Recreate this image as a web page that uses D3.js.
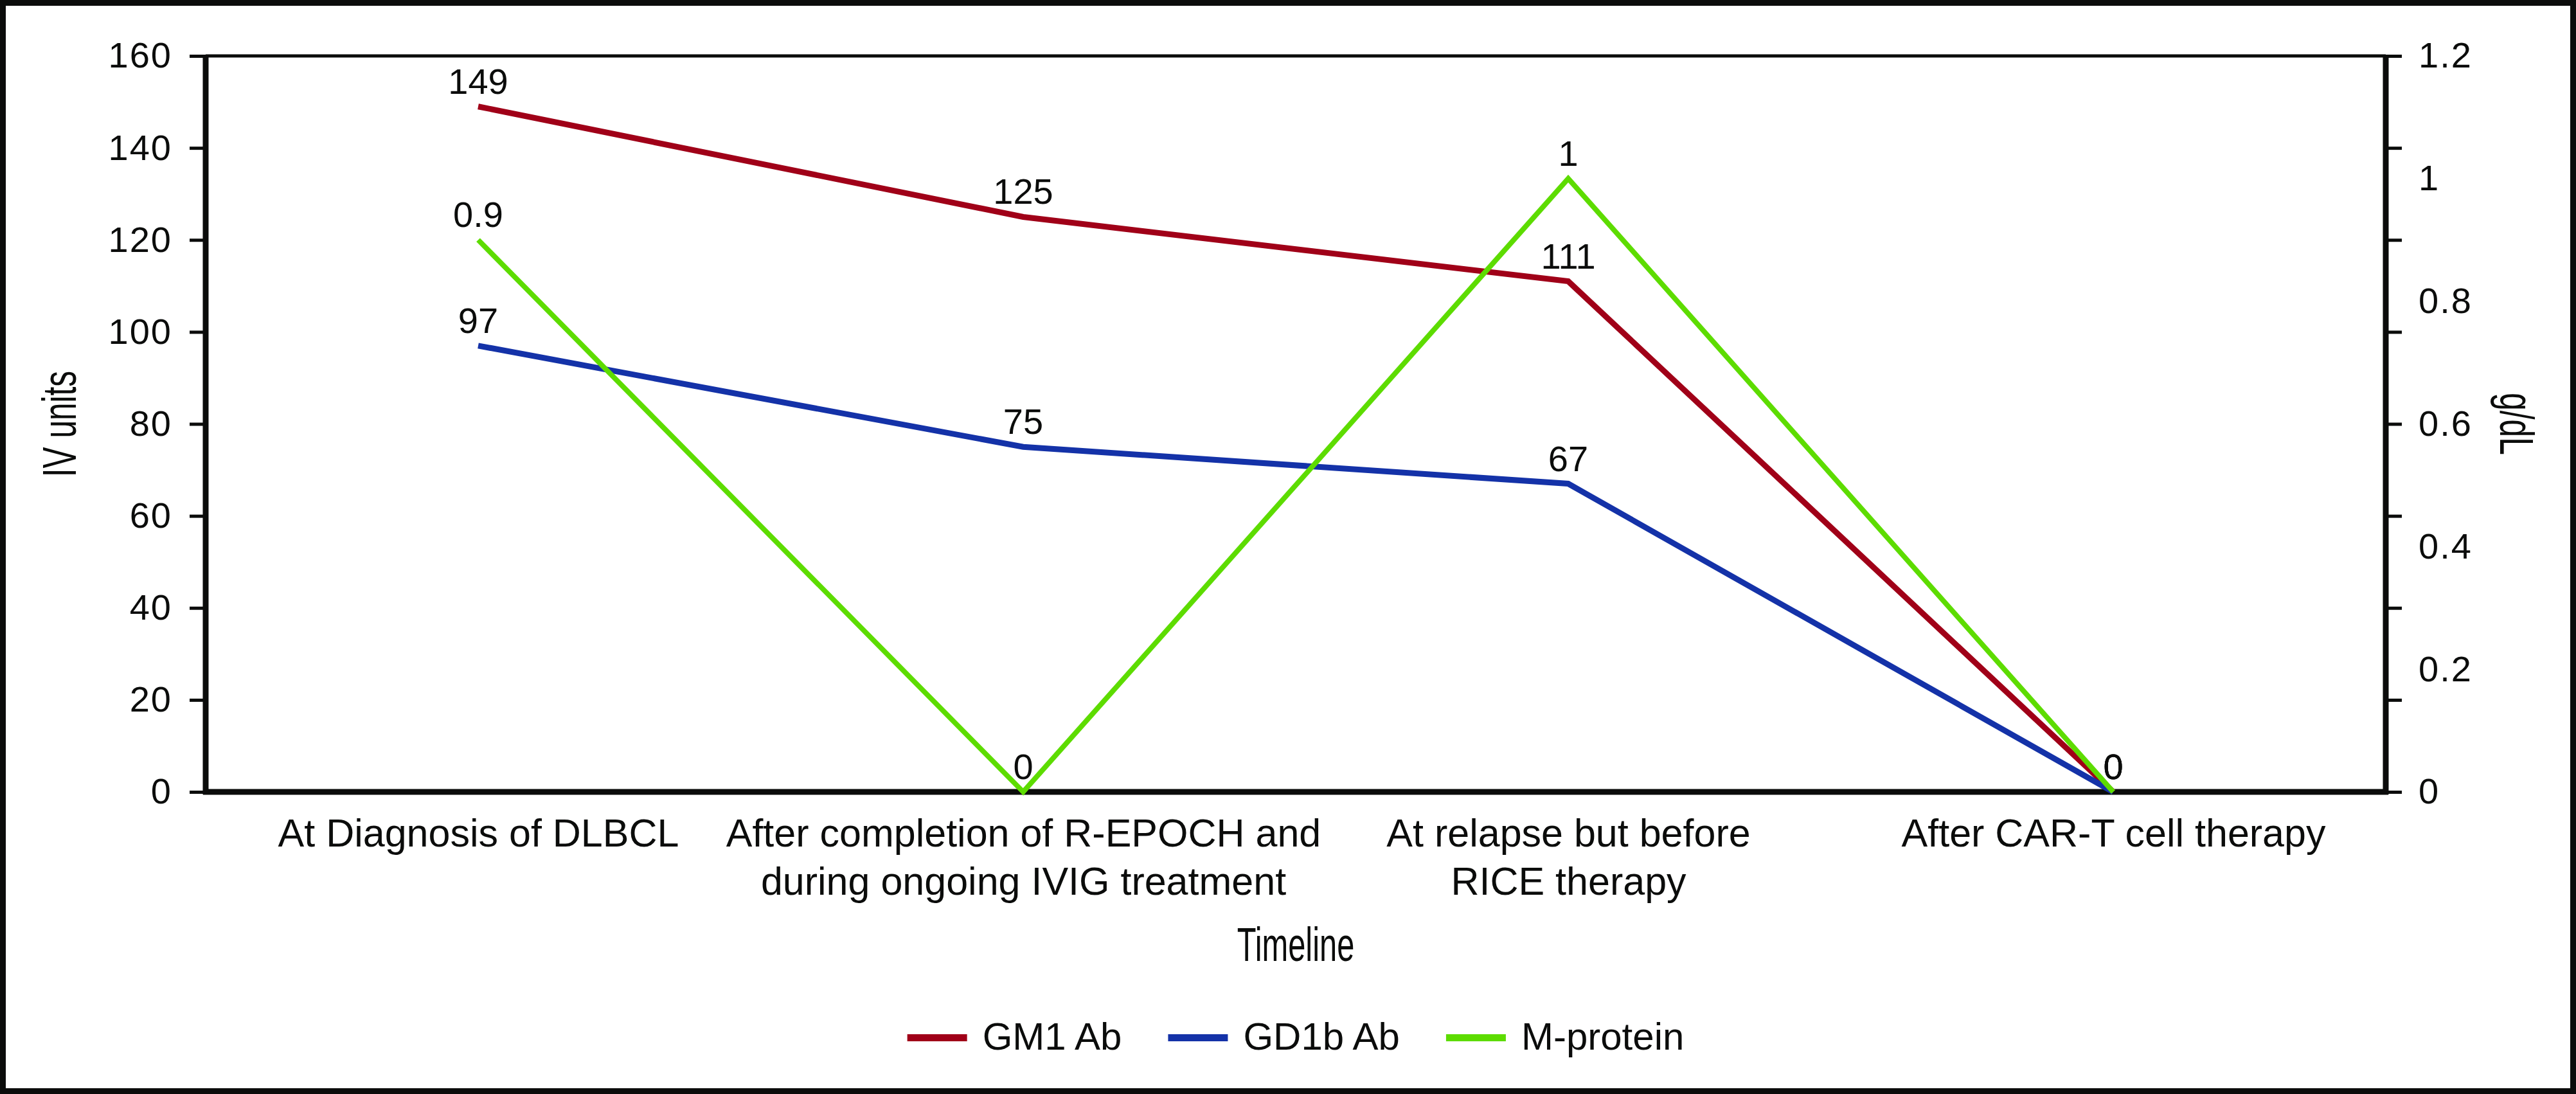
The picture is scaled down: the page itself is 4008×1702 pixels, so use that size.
<!DOCTYPE html>
<html>
<head>
<meta charset="utf-8">
<script src="https://cdn.jsdelivr.net/npm/d3@7"></script>
<style>
  body { margin: 0; background: #fff; }
  svg { display: block; font-family: "Liberation Sans", Arial, Helvetica, sans-serif; }
</style>
</head>
<body>
<script>
// chart data
var categories = ["diag", "repoch", "relapse", "cart"];
var categoryLabels = [
  ["At Diagnosis of DLBCL"],
  ["After completion of R-EPOCH and", "during ongoing IVIG treatment"],
  ["At relapse but before", "RICE therapy"],
  ["After CAR-T cell therapy"]
];
var gm1 = [149, 125, 111, 0];
var gd1b = [97, 75, 67, 0];
var mprotein = [0.9, 0, 1, 0];
var leftTicks = [0, 20, 40, 60, 80, 100, 120, 140, 160];
var rightTicks = [0, 0.2, 0.4, 0.6, 0.8, 1, 1.2];
var seriesNames = ["GM1 Ab", "GD1b Ab", "M-protein"];

var width = 4008, height = 1702;
var margin = {top: 87, right: 296, bottom: 470, left: 320};
var plotRight = width - margin.right;
var plotBottom = height - margin.bottom;

var svg = d3.select("body").append("svg")
  .attr("width", width)
  .attr("height", height);

svg.append("rect")
  .attr("width", width).attr("height", height)
  .attr("fill", "#fff");

// outer frame
svg.append("rect")
  .attr("x", 4.5).attr("y", 4.5)
  .attr("width", width - 9).attr("height", height - 9)
  .attr("fill", "none").attr("stroke", "#0b0c0b").attr("stroke-width", 9);

var x = d3.scalePoint().domain(categories).range([margin.left, plotRight]).padding(0.5);
var yL = d3.scaleLinear().domain([0, 160]).range([plotBottom, margin.top]);
var yR = d3.scaleLinear().domain([0, 1.2]).range([plotBottom, margin.top]);

// left axis
var gL = svg.append("g")
  .attr("transform", "translate(" + margin.left + ",0)")
  .call(d3.axisLeft(yL).tickValues(leftTicks).tickSize(25).tickPadding(27));
gL.select(".domain").remove();
gL.selectAll(".tick line").attr("stroke", "#0b0c0b").attr("stroke-width", 5);
gL.selectAll(".tick text").attr("font-size", 56).attr("fill", "#0b0c0b")
  .attr("font-family", "Liberation Sans, Arial, sans-serif").attr("letter-spacing", 2);

// right axis: ticks follow the left grid, labels every 0.2
var gRt = svg.append("g")
  .attr("transform", "translate(" + plotRight + ",0)")
  .call(d3.axisRight(yL).tickValues(leftTicks).tickSize(25).tickFormat(""));
gRt.select(".domain").remove();
gRt.selectAll(".tick line").attr("stroke", "#0b0c0b").attr("stroke-width", 5);

var gR = svg.append("g")
  .attr("transform", "translate(" + plotRight + ",0)")
  .call(d3.axisRight(yR).tickValues(rightTicks).tickSize(0).tickPadding(51)
    .tickFormat(function(d) { return d3.format("~g")(d); }));
gR.select(".domain").remove();
gR.selectAll(".tick text").attr("font-size", 56).attr("fill", "#0b0c0b")
  .attr("font-family", "Liberation Sans, Arial, sans-serif").attr("letter-spacing", 2);

// bottom axis with wrapped labels
var gB = svg.append("g")
  .attr("transform", "translate(0," + plotBottom + ")")
  .call(d3.axisBottom(x).tickSize(0).tickPadding(0).tickFormat(""));
gB.select(".domain").remove();
gB.selectAll(".tick text").remove();
gB.selectAll(".tick").each(function(d, i) {
  var t = d3.select(this).append("text")
    .attr("text-anchor", "middle")
    .attr("font-size", 61)
    .attr("fill", "#0b0c0b");
  categoryLabels[i].forEach(function(line, j) {
    t.append("tspan").attr("x", 0).attr("y", 85 + j * 75).text(line);
  });
});

// plot frame: thin top, heavy axes
svg.append("line")
  .attr("x1", margin.left).attr("x2", plotRight)
  .attr("y1", margin.top).attr("y2", margin.top)
  .attr("stroke", "#0b0c0b").attr("stroke-width", 5);
svg.append("line")
  .attr("x1", margin.left - 4).attr("x2", plotRight + 4)
  .attr("y1", plotBottom).attr("y2", plotBottom)
  .attr("stroke", "#0b0c0b").attr("stroke-width", 9);
svg.append("line")
  .attr("x1", margin.left).attr("x2", margin.left)
  .attr("y1", margin.top - 2).attr("y2", plotBottom + 4)
  .attr("stroke", "#0b0c0b").attr("stroke-width", 9);
svg.append("line")
  .attr("x1", plotRight).attr("x2", plotRight)
  .attr("y1", margin.top - 2).attr("y2", plotBottom + 4)
  .attr("stroke", "#0b0c0b").attr("stroke-width", 9);

// axis titles (condensed face)
svg.append("text")
  .attr("transform", "translate(118," + (margin.top + plotBottom) / 2 + ") rotate(-90) scale(0.67,1)")
  .attr("text-anchor", "middle").attr("font-size", 74).attr("fill", "#0b0c0b")
  .text("IV units");
svg.append("text")
  .attr("transform", "translate(3890," + (margin.top + plotBottom) / 2 + ") rotate(90) scale(0.67,1)")
  .attr("text-anchor", "middle").attr("font-size", 74).attr("fill", "#0b0c0b")
  .text("g/dL");
svg.append("text")
  .attr("transform", "translate(" + (margin.left + plotRight) / 2 + ",1495) scale(0.66,1)")
  .attr("text-anchor", "middle").attr("font-size", 74).attr("fill", "#0b0c0b")
  .text("Timeline");

var series = [
  {name: seriesNames[0], values: gm1, y: yL, color: "#a00018", w: 9},
  {name: seriesNames[1], values: gd1b, y: yL, color: "#1432a8", w: 9},
  {name: seriesNames[2], values: mprotein, y: yR, color: "#5ddc00", w: 8}
];

series.forEach(function(s) {
  var line = d3.line()
    .x(function(d, i) { return x(categories[i]); })
    .y(function(d) { return s.y(d); });
  svg.append("path")
    .datum(s.values)
    .attr("d", line)
    .attr("fill", "none")
    .attr("stroke", s.color)
    .attr("stroke-width", s.w)
    .attr("stroke-linejoin", "miter");
});

// data labels
series.forEach(function(s) {
  svg.append("g").selectAll("text")
    .data(s.values)
    .enter().append("text")
    .attr("x", function(d, i) { return x(categories[i]); })
    .attr("y", function(d) { return s.y(d) - 20; })
    .attr("text-anchor", "middle")
    .attr("font-size", 56)
    .attr("fill", "#0b0c0b")
    .text(function(d) { return d; });
});

// legend
var legend = svg.append("g");
var lx = 0;
series.forEach(function(s, i) {
  var item = legend.append("g").attr("transform", "translate(" + lx + ",0)");
  item.append("rect")
    .attr("x", 0).attr("y", -6).attr("width", 93).attr("height", 11)
    .attr("fill", s.color);
  var t = item.append("text")
    .attr("x", 117).attr("y", 18)
    .attr("font-size", 60).attr("fill", "#0b0c0b")
    .text(s.name);
  lx += 117 + t.node().getComputedTextLength() + 72;
});
var legendW = lx - 72;
legend.attr("transform", "translate(" + ((margin.left + plotRight) / 2 - legendW / 2) + ",1615)");
</script>
</body>
</html>
